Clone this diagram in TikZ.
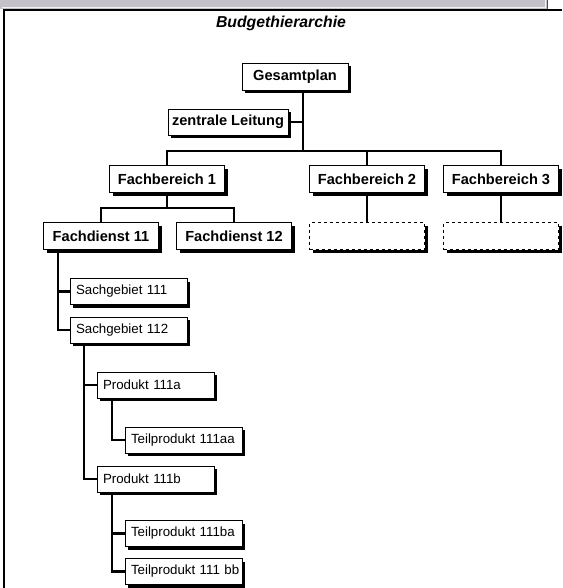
\documentclass[tikz,border=0pt]{standalone}
\usepackage{fontspec}
\setmainfont{Liberation Sans}
\usetikzlibrary{shadows}
\definecolor{bargray}{RGB}{196,194,200}

\begin{document}
\begin{tikzpicture}[x=1pt,y=-1pt]
\tikzset{
  box/.style={draw,fill=white,line width=0.9pt,inner sep=0pt,minimum height=27pt,
    drop shadow={shadow xshift=3pt,shadow yshift=-3pt,fill=black,opacity=1}},
  chief/.style={box,font=\fontsize{14.6}{16}\selectfont\bfseries,minimum width=115pt},
  leaf/.style={box,font=\fontsize{13.3}{15}\selectfont,text width=105pt,align=left,
    inner xsep=6pt,minimum height=26pt,
    execute at begin node={\hyphenpenalty=10000\exhyphenpenalty=10000}},
  blank/.style={box,dashed,minimum width=115pt},
  link/.style={line width=2.2pt},
}
\useasboundingbox (0,0) rectangle (562,588);
% Fensterrahmen
\fill[bargray] (0,0) rectangle (548,9);
\draw[white!80!bargray] (2,7.5) -- (545,7.5) -- (545,0);
\draw[gray!60!black,line width=1.5pt] (547.5,0) -- (547.5,9);
\draw[line width=2pt] (3,10) -- (562,10);
\draw[line width=2pt] (4,10) -- (4,588);

\node (title) at (281,23) {\fontsize{15.8}{18}\selectfont\bfseries\itshape Budgethierarchie};

\node[chief,minimum width=106pt] (gesamt) at (295,76.5) {Gesamtplan};
\node[chief,minimum width=120pt,minimum height=26pt] (zentral) at (228,122) {zentrale Leitung};
\node[chief] (fb1) at (167,179) {Fachbereich 1};
\node[chief] (fb2) at (367,179) {Fachbereich 2};
\node[chief] (fb3) at (501,179) {Fachbereich 3};
\node[chief] (fd11) at (101,236) {Fachdienst 11};
\node[chief] (fd12) at (234,236) {Fachdienst 12};
\node[blank] (leer2) at (367,236) {}; % noch leer
\node[blank] (leer3) at (501,236) {};
\node[leaf] (sg111) at (128.5,291.5) {Sachgebiet~111};
\node[leaf] (sg112) at (128.5,330) {Sachgebiet~112};
\node[leaf] (p111a) at (155.5,385) {Produkt~111a};
\node[leaf] (tp111aa) at (183.5,440) {Teilprodukt~111aa};
\node[leaf] (p111b) at (155.5,479) {Produkt~111b};
\node[leaf] (tp111ba) at (183.5,533.5) {Teilprodukt~111ba};
\node[leaf] (tp111bb) at (183.5,571.5) {Teilprodukt~111~bb};

\coordinate (knot) at (303,151);
\coordinate (knot1) at (167,208);
\draw[link] (gesamt.south -| knot) -- (knot);
\draw[link] (zentral.east) -- (zentral.east -| knot);
\draw[link] (fb1.north) |- (knot) -| (fb3.north);
\draw[link] (fb2.north) -- (fb2.north |- knot);
\draw[link] (fb1.south) -- (knot1);
\draw[link] (fd11.north) |- (knot1) -| (fd12.north);
\draw[link] (fb2.south) -- (leer2.north);
\draw[link] (fb3.south) -- (leer3.north);
% untere Ebenen
\coordinate (st1) at ([xshift=-43pt]fd11.south);
\draw[link] (st1) |- (sg112.west);
\draw[link] (st1 |- sg111.west) -- (sg111.west);
\coordinate (st2) at ([xshift=-44.5pt]sg112.south);
\draw[link] (st2) |- (p111b.west);
\draw[link] (st2 |- p111a.west) -- (p111a.west);
\draw[link] ([xshift=-43.5pt]p111a.south) |- (tp111aa.west);
\coordinate (st4) at ([xshift=-43.5pt]p111b.south);
\draw[link] (st4) |- (tp111bb.west);
\draw[link] (st4 |- tp111ba.west) -- (tp111ba.west);
\end{tikzpicture}
\end{document}
